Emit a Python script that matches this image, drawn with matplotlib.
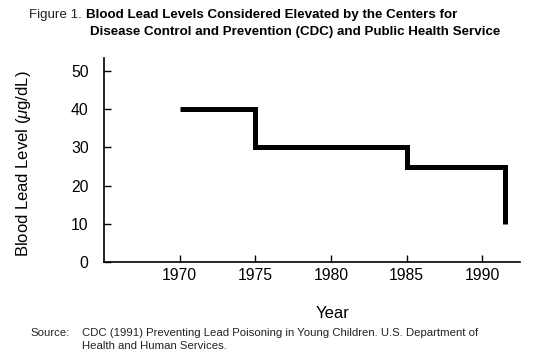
import matplotlib.pyplot as plt

plt.rcParams['font.family'] = ['Liberation Sans', 'DejaVu Sans']
plt.rcParams['mathtext.fontset'] = 'custom'
plt.rcParams['mathtext.it'] = 'Liberation Sans:italic'
plt.rcParams['mathtext.rm'] = 'Liberation Sans'

# années où le seuil change, et seuils (µg/dL)
years = [1970, 1975, 1985, 1991.5]
levels = [40, 30, 25]
end_level = 10
xticks = [1970, 1975, 1980, 1985, 1990]
yticks = [0, 10, 20, 30, 40, 50]

fig = plt.figure(figsize=(5.35, 3.56), dpi=100)
ax = fig.add_axes([0.1944, 0.264, 0.7776, 0.573])

xs = years + [years[-1]]
ys = levels + [levels[-1], end_level]
ax.step(xs, ys, where='post', color='black', lw=3.6,
        solid_joinstyle='miter', solid_capstyle='butt')

ax.set_xlim(1965, 1992.5)
ax.set_ylim(0, 53.4)
ax.set_xticks(xticks)
ax.set_yticks(yticks)
ax.tick_params(direction='in', length=5, width=1, labelsize=11.3)
ax.tick_params(axis='x', pad=4)
ax.tick_params(axis='y', pad=11)
for s in ['top', 'right']:
    ax.spines[s].set_visible(False)
for s in ['left', 'bottom']:
    ax.spines[s].set_linewidth(1.2)

ax.set_ylabel(r'Blood Lead Level ($\mu$g/dL)', fontsize=12)
ax.yaxis.set_label_coords(-0.17, 0.483)
fig.text(333 / 535, 1 - 313 / 356, 'Year', fontsize=12, ha='center', va='center')

# titre en deux morceaux : normal + gras
fig.text(29 / 535, 1 - 15 / 356, 'Figure 1.', fontsize=9.6, va='center', color='#222222')
fig.text(86 / 535, 1 - 15 / 356, 'Blood Lead Levels Considered Elevated by the Centers for',
         fontsize=9.6, fontweight='bold', va='center')
fig.text(90 / 535, 1 - 32 / 356, 'Disease Control and Prevention (CDC) and Public Health Service',
         fontsize=9.6, fontweight='bold', va='center')

fig.text(30 / 535, 1 - 333 / 356, 'Source:', fontsize=8.2, va='center', color='#222222')
fig.text(82 / 535, 1 - 333 / 356,
         'CDC (1991) Preventing Lead Poisoning in Young Children. U.S. Department of',
         fontsize=8.2, va='center', color='#222222')
fig.text(82 / 535, 1 - 346 / 356, 'Health and Human Services.', fontsize=8.2, va='center',
         color='#222222')

plt.savefig('out.png', dpi=100)
